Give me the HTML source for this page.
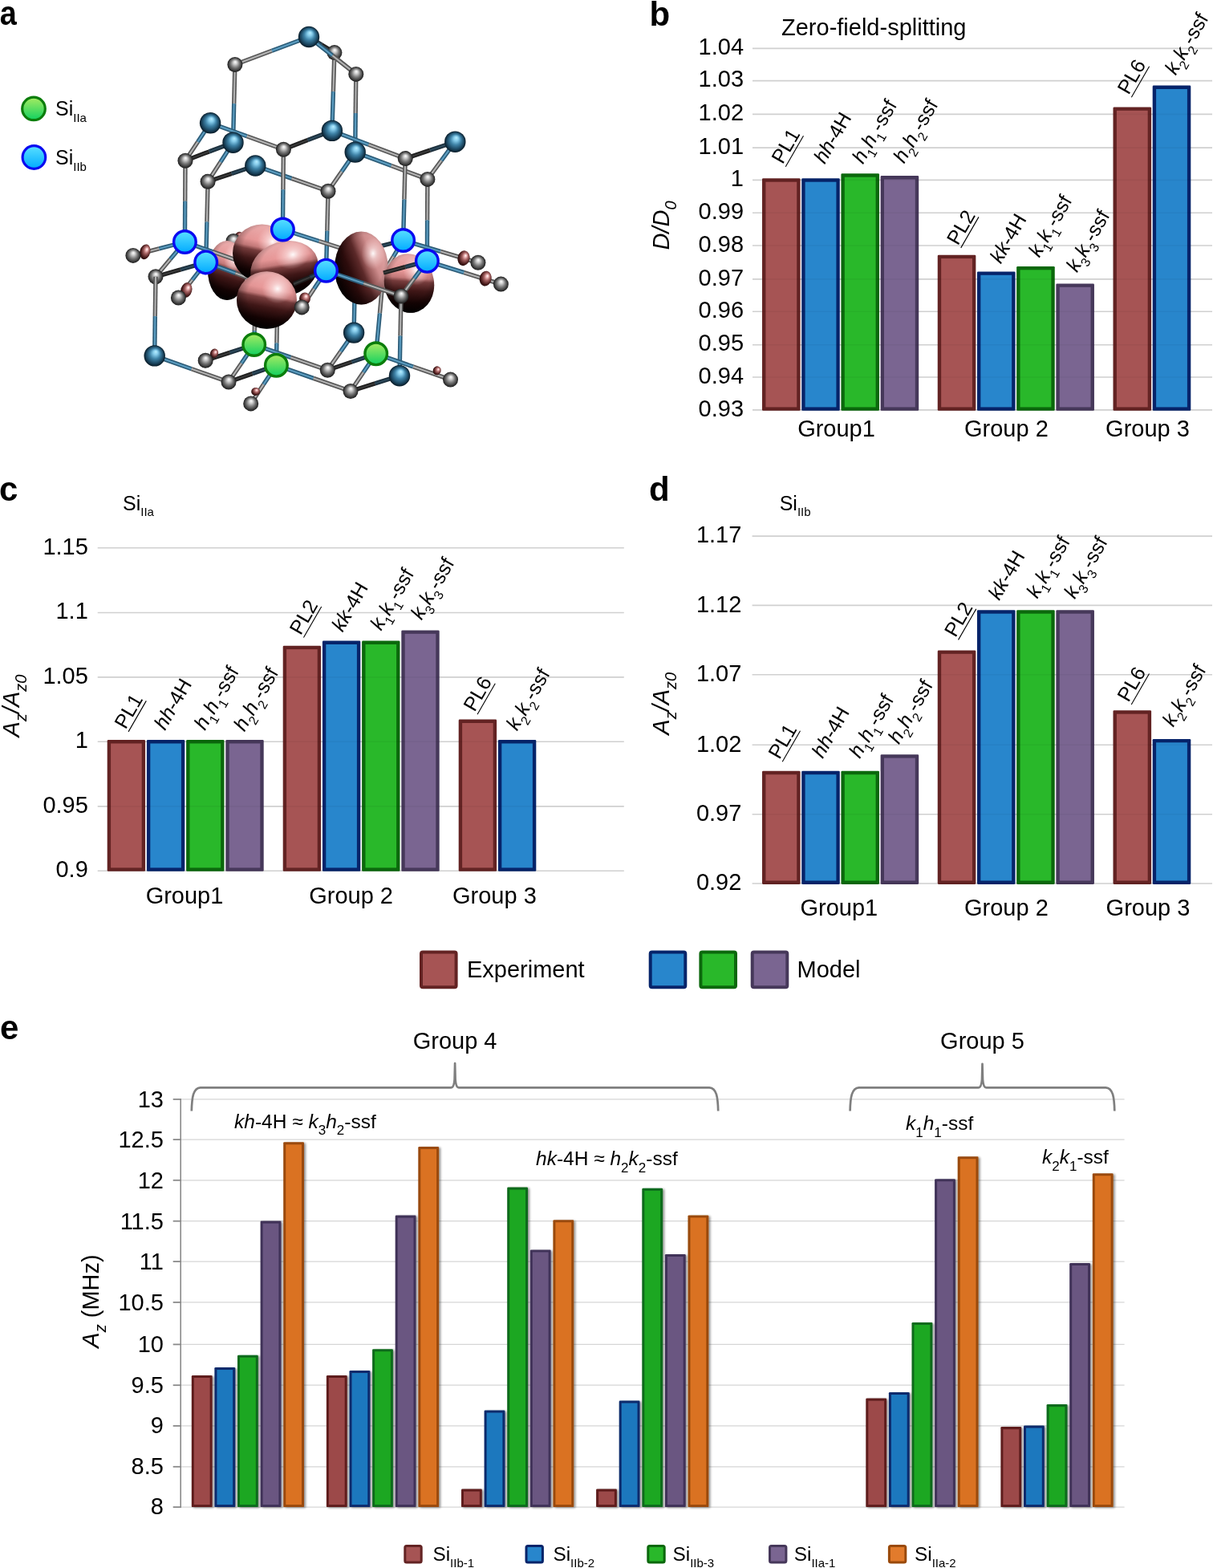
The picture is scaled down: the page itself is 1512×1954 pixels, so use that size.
<!DOCTYPE html>
<html><head><meta charset="utf-8"><title>Figure</title>
<style>
html,body{margin:0;padding:0;background:#fff;}
svg{display:block;}
text{font-family:'Liberation Sans', Arial, Helvetica, sans-serif;fill:#000;}
</style></head><body>
<svg width="1512" height="1954" viewBox="0 0 1512 1954">
<defs>
<radialGradient id="gC" cx="0.5" cy="0.5" r="0.5" fx="0.52" fy="0.32">
 <stop offset="0" stop-color="#ffffff"/><stop offset="0.22" stop-color="#d4d4d4"/><stop offset="0.55" stop-color="#7c7c7c"/><stop offset="0.85" stop-color="#3a3a3a"/><stop offset="1" stop-color="#1a1a1a"/></radialGradient>
<radialGradient id="gS" cx="0.5" cy="0.5" r="0.5" fx="0.56" fy="0.3">
 <stop offset="0" stop-color="#b8eeff"/><stop offset="0.22" stop-color="#86cceb"/><stop offset="0.5" stop-color="#3e82a6"/><stop offset="0.8" stop-color="#1b4660"/><stop offset="1" stop-color="#081a26"/></radialGradient>
<linearGradient id="gB" x1="0" y1="0" x2="0" y2="1">
 <stop offset="0" stop-color="#5ae0ff"/><stop offset="1" stop-color="#00aaff"/></linearGradient>
<linearGradient id="gG" x1="0" y1="0" x2="0" y2="1">
 <stop offset="0" stop-color="#a8ec62"/><stop offset="1" stop-color="#10d060"/></linearGradient>
<radialGradient id="gP" cx="0.68" cy="0.2" r="0.95" fx="0.66" fy="0.24">
 <stop offset="0" stop-color="#ffffff"/><stop offset="0.07" stop-color="#fde4e4"/><stop offset="0.2" stop-color="#eea8a8"/><stop offset="0.36" stop-color="#c88080"/><stop offset="0.5" stop-color="#6e3434"/><stop offset="0.68" stop-color="#2a0808"/><stop offset="0.85" stop-color="#0a0000"/><stop offset="1" stop-color="#000"/></radialGradient>
<radialGradient id="gP2" cx="0.78" cy="0.26" r="0.95" fx="0.76" fy="0.28">
 <stop offset="0" stop-color="#ffffff"/><stop offset="0.05" stop-color="#fde4e4"/><stop offset="0.14" stop-color="#e8a2a2"/><stop offset="0.27" stop-color="#b27070"/><stop offset="0.42" stop-color="#5e2a2a"/><stop offset="0.6" stop-color="#240808"/><stop offset="0.8" stop-color="#060000"/><stop offset="1" stop-color="#000"/></radialGradient>
<linearGradient id="gL" x1="0.6" y1="0" x2="0.4" y2="1">
 <stop offset="0" stop-color="#f8b8b8"/><stop offset="0.3" stop-color="#ee9c9c"/><stop offset="0.41" stop-color="#c87c7c"/><stop offset="0.47" stop-color="#7a3e3e"/><stop offset="0.62" stop-color="#421818"/><stop offset="0.82" stop-color="#160303"/><stop offset="1" stop-color="#040000"/></linearGradient>
<linearGradient id="gL2" x1="0.95" y1="0.25" x2="0.05" y2="0.75">
 <stop offset="0" stop-color="#f0b0b0"/><stop offset="0.25" stop-color="#d89494"/><stop offset="0.4" stop-color="#9a5a5a"/><stop offset="0.5" stop-color="#5e2a2a"/><stop offset="0.7" stop-color="#2e0c0c"/><stop offset="1" stop-color="#080000"/></linearGradient>
<radialGradient id="gLimb" cx="0.55" cy="0.42" r="0.62">
 <stop offset="0" stop-color="#000" stop-opacity="0"/><stop offset="0.6" stop-color="#000" stop-opacity="0.05"/><stop offset="0.85" stop-color="#000" stop-opacity="0.35"/><stop offset="1" stop-color="#000" stop-opacity="0.7"/></radialGradient>
<radialGradient id="gHi" cx="0.68" cy="0.3" r="0.26">
 <stop offset="0" stop-color="#fff" stop-opacity="0.95"/><stop offset="0.35" stop-color="#fff0f0" stop-opacity="0.55"/><stop offset="1" stop-color="#ffdcdc" stop-opacity="0"/></radialGradient>
<radialGradient id="gHi2" cx="0.72" cy="0.3" r="0.22">
 <stop offset="0" stop-color="#fff" stop-opacity="0.95"/><stop offset="0.35" stop-color="#fff0f0" stop-opacity="0.5"/><stop offset="1" stop-color="#ffdcdc" stop-opacity="0"/></radialGradient>
<radialGradient id="gPs" cx="0.55" cy="0.45" r="0.6" fx="0.62" fy="0.3">
 <stop offset="0" stop-color="#fff"/><stop offset="0.15" stop-color="#f2c0c0"/><stop offset="0.4" stop-color="#a86464"/><stop offset="0.75" stop-color="#4a1c1c"/><stop offset="1" stop-color="#1a0404"/></radialGradient>
<filter id="shadow" x="-20%" y="-5%" width="150%" height="110%">
 <feGaussianBlur in="SourceAlpha" stdDeviation="1.4"/><feOffset dx="2.2" dy="0.5" result="b"/>
 <feComponentTransfer><feFuncA type="linear" slope="0.45"/></feComponentTransfer>
 <feMerge><feMergeNode/><feMergeNode in="SourceGraphic"/></feMerge></filter>
</defs>
<rect width="1512" height="1954" fill="#fff"/>
<line x1="938" y1="60.40" x2="1511" y2="60.40" stroke="#d9d9d9" stroke-width="1.6"/>
<text transform="translate(927.0,68.00) scale(1,1.03)" font-size="29" text-anchor="end">1.04</text>
<line x1="938" y1="100.60" x2="1511" y2="100.60" stroke="#d9d9d9" stroke-width="1.6"/>
<text transform="translate(927.0,108.20) scale(1,1.03)" font-size="29" text-anchor="end">1.03</text>
<line x1="938" y1="142.40" x2="1511" y2="142.40" stroke="#d9d9d9" stroke-width="1.6"/>
<text transform="translate(927.0,150.00) scale(1,1.03)" font-size="29" text-anchor="end">1.02</text>
<line x1="938" y1="184.10" x2="1511" y2="184.10" stroke="#d9d9d9" stroke-width="1.6"/>
<text transform="translate(927.0,191.70) scale(1,1.03)" font-size="29" text-anchor="end">1.01</text>
<line x1="938" y1="224.40" x2="1511" y2="224.40" stroke="#d9d9d9" stroke-width="1.6"/>
<text transform="translate(927.0,232.00) scale(1,1.03)" font-size="29" text-anchor="end">1</text>
<line x1="938" y1="265.20" x2="1511" y2="265.20" stroke="#d9d9d9" stroke-width="1.6"/>
<text transform="translate(927.0,272.80) scale(1,1.03)" font-size="29" text-anchor="end">0.99</text>
<line x1="938" y1="306.00" x2="1511" y2="306.00" stroke="#d9d9d9" stroke-width="1.6"/>
<text transform="translate(927.0,313.60) scale(1,1.03)" font-size="29" text-anchor="end">0.98</text>
<line x1="938" y1="347.90" x2="1511" y2="347.90" stroke="#d9d9d9" stroke-width="1.6"/>
<text transform="translate(927.0,355.50) scale(1,1.03)" font-size="29" text-anchor="end">0.97</text>
<line x1="938" y1="388.30" x2="1511" y2="388.30" stroke="#d9d9d9" stroke-width="1.6"/>
<text transform="translate(927.0,395.90) scale(1,1.03)" font-size="29" text-anchor="end">0.96</text>
<line x1="938" y1="429.80" x2="1511" y2="429.80" stroke="#d9d9d9" stroke-width="1.6"/>
<text transform="translate(927.0,437.40) scale(1,1.03)" font-size="29" text-anchor="end">0.95</text>
<line x1="938" y1="470.00" x2="1511" y2="470.00" stroke="#d9d9d9" stroke-width="1.6"/>
<text transform="translate(927.0,477.60) scale(1,1.03)" font-size="29" text-anchor="end">0.94</text>
<line x1="938" y1="510.90" x2="1511" y2="510.90" stroke="#d9d9d9" stroke-width="1.6"/>
<text transform="translate(927.0,518.50) scale(1,1.03)" font-size="29" text-anchor="end">0.93</text>
<rect x="950.00" y="222.30" width="47.60" height="289.50" rx="1.3" fill="#632323"/><rect x="954.40" y="226.70" width="38.80" height="280.70" fill="#a65454"/>
<rect x="999.20" y="222.30" width="47.60" height="289.50" rx="1.3" fill="#06246a"/><rect x="1003.60" y="226.70" width="38.80" height="280.70" fill="#2886cc"/>
<rect x="1048.40" y="216.30" width="47.60" height="295.50" rx="1.3" fill="#0b680c"/><rect x="1052.80" y="220.70" width="38.80" height="286.70" fill="#29b82a"/>
<rect x="1097.60" y="219.10" width="47.60" height="292.70" rx="1.3" fill="#46385a"/><rect x="1102.00" y="223.50" width="38.80" height="283.90" fill="#7a6591"/>
<rect x="1168.75" y="317.70" width="47.60" height="194.10" rx="1.3" fill="#632323"/><rect x="1173.15" y="322.10" width="38.80" height="185.30" fill="#a65454"/>
<rect x="1217.95" y="338.40" width="47.60" height="173.40" rx="1.3" fill="#06246a"/><rect x="1222.35" y="342.80" width="38.80" height="164.60" fill="#2886cc"/>
<rect x="1267.15" y="331.90" width="47.60" height="179.90" rx="1.3" fill="#0b680c"/><rect x="1271.55" y="336.30" width="38.80" height="171.10" fill="#29b82a"/>
<rect x="1316.35" y="353.40" width="47.60" height="158.40" rx="1.3" fill="#46385a"/><rect x="1320.75" y="357.80" width="38.80" height="149.60" fill="#7a6591"/>
<rect x="1387.50" y="133.40" width="47.60" height="378.40" rx="1.3" fill="#632323"/><rect x="1391.90" y="137.80" width="38.80" height="369.60" fill="#a65454"/>
<rect x="1436.70" y="106.60" width="47.60" height="405.20" rx="1.3" fill="#06246a"/><rect x="1441.10" y="111.00" width="38.80" height="396.40" fill="#2886cc"/>
<line x1="938" y1="60.40" x2="1511" y2="60.40" stroke="#000" stroke-opacity="0.04" stroke-width="1.6"/>
<line x1="938" y1="100.60" x2="1511" y2="100.60" stroke="#000" stroke-opacity="0.04" stroke-width="1.6"/>
<line x1="938" y1="142.40" x2="1511" y2="142.40" stroke="#000" stroke-opacity="0.04" stroke-width="1.6"/>
<line x1="938" y1="184.10" x2="1511" y2="184.10" stroke="#000" stroke-opacity="0.04" stroke-width="1.6"/>
<line x1="938" y1="224.40" x2="1511" y2="224.40" stroke="#000" stroke-opacity="0.04" stroke-width="1.6"/>
<line x1="938" y1="265.20" x2="1511" y2="265.20" stroke="#000" stroke-opacity="0.04" stroke-width="1.6"/>
<line x1="938" y1="306.00" x2="1511" y2="306.00" stroke="#000" stroke-opacity="0.04" stroke-width="1.6"/>
<line x1="938" y1="347.90" x2="1511" y2="347.90" stroke="#000" stroke-opacity="0.04" stroke-width="1.6"/>
<line x1="938" y1="388.30" x2="1511" y2="388.30" stroke="#000" stroke-opacity="0.04" stroke-width="1.6"/>
<line x1="938" y1="429.80" x2="1511" y2="429.80" stroke="#000" stroke-opacity="0.04" stroke-width="1.6"/>
<line x1="938" y1="470.00" x2="1511" y2="470.00" stroke="#000" stroke-opacity="0.04" stroke-width="1.6"/>
<line x1="938" y1="510.90" x2="1511" y2="510.90" stroke="#000" stroke-opacity="0.04" stroke-width="1.6"/>
<g transform="translate(975.60,205.60) rotate(-60)"><text x="0" y="0" font-size="25"><tspan>PL1</tspan></text><line x1="0" y1="4.2" x2="44.5" y2="4.2" stroke="#000" stroke-width="1.1"/></g>
<g transform="translate(1027.90,205.30) rotate(-60)"><text x="0" y="0" font-size="25"><tspan font-style="italic">hh</tspan><tspan>-4H</tspan></text></g>
<g transform="translate(1075.70,205.20) rotate(-60)"><text x="0" y="0" font-size="25"><tspan font-style="italic">h</tspan><tspan font-size="16" dy="8">1</tspan><tspan dy="-8">​</tspan><tspan font-style="italic">h</tspan><tspan font-size="16" dy="8">1</tspan><tspan dy="-8">​</tspan><tspan>-ssf</tspan></text></g>
<g transform="translate(1127.10,204.60) rotate(-60)"><text x="0" y="0" font-size="25"><tspan font-style="italic">h</tspan><tspan font-size="16" dy="8">2</tspan><tspan dy="-8">​</tspan><tspan font-style="italic">h</tspan><tspan font-size="16" dy="8">2</tspan><tspan dy="-8">​</tspan><tspan>-ssf</tspan></text></g>
<g transform="translate(1194.10,306.80) rotate(-60)"><text x="0" y="0" font-size="25"><tspan>PL2</tspan></text><line x1="0" y1="4.2" x2="44.5" y2="4.2" stroke="#000" stroke-width="1.1"/></g>
<g transform="translate(1247.60,329.50) rotate(-60)"><text x="0" y="0" font-size="25"><tspan font-style="italic">kk</tspan><tspan>-4H</tspan></text></g>
<g transform="translate(1295.40,321.70) rotate(-60)"><text x="0" y="0" font-size="25"><tspan font-style="italic">k</tspan><tspan font-size="16" dy="8">1</tspan><tspan dy="-8">​</tspan><tspan font-style="italic">k</tspan><tspan font-size="16" dy="8">1</tspan><tspan dy="-8">​</tspan><tspan>-ssf</tspan></text></g>
<g transform="translate(1342.50,340.30) rotate(-60)"><text x="0" y="0" font-size="25"><tspan font-style="italic">k</tspan><tspan font-size="16" dy="8">3</tspan><tspan dy="-8">​</tspan><tspan font-style="italic">k</tspan><tspan font-size="16" dy="8">3</tspan><tspan dy="-8">​</tspan><tspan>-ssf</tspan></text></g>
<g transform="translate(1406.70,119.10) rotate(-60)"><text x="0" y="0" font-size="25"><tspan>PL6</tspan></text><line x1="0" y1="4.2" x2="44.5" y2="4.2" stroke="#000" stroke-width="1.1"/></g>
<g transform="translate(1465.40,94.60) rotate(-60)"><text x="0" y="0" font-size="25"><tspan font-style="italic">k</tspan><tspan font-size="16" dy="8">2</tspan><tspan dy="-8">​</tspan><tspan font-style="italic">k</tspan><tspan font-size="16" dy="8">2</tspan><tspan dy="-8">​</tspan><tspan>-ssf</tspan></text></g>
<text x="809.5" y="31.6" font-size="42" font-weight="bold">b</text>
<text x="974" y="44" font-size="29" text-anchor="start" >Zero-field-splitting</text>
<text transform="translate(834.3,281) rotate(-90)" font-size="29" text-anchor="middle" font-style="italic">D/D<tspan font-size="20" dy="9">0</tspan></text>
<text x="1042.5" y="544.2" font-size="29" text-anchor="middle" >Group1</text>
<text x="1254.4" y="544.2" font-size="29" text-anchor="middle" >Group 2</text>
<text x="1430.5" y="544.2" font-size="29" text-anchor="middle" >Group 3</text>
<line x1="121.7" y1="682.80" x2="777.8" y2="682.80" stroke="#d9d9d9" stroke-width="1.6"/>
<text transform="translate(109.8,690.70) scale(1,1.03)" font-size="29" text-anchor="end">1.15</text>
<line x1="121.7" y1="763.50" x2="777.8" y2="763.50" stroke="#d9d9d9" stroke-width="1.6"/>
<text transform="translate(109.8,771.40) scale(1,1.03)" font-size="29" text-anchor="end">1.1</text>
<line x1="121.7" y1="843.90" x2="777.8" y2="843.90" stroke="#d9d9d9" stroke-width="1.6"/>
<text transform="translate(109.8,851.80) scale(1,1.03)" font-size="29" text-anchor="end">1.05</text>
<line x1="121.7" y1="924.20" x2="777.8" y2="924.20" stroke="#d9d9d9" stroke-width="1.6"/>
<text transform="translate(109.8,932.10) scale(1,1.03)" font-size="29" text-anchor="end">1</text>
<line x1="121.7" y1="1004.90" x2="777.8" y2="1004.90" stroke="#d9d9d9" stroke-width="1.6"/>
<text transform="translate(109.8,1012.80) scale(1,1.03)" font-size="29" text-anchor="end">0.95</text>
<line x1="121.7" y1="1085.30" x2="777.8" y2="1085.30" stroke="#d9d9d9" stroke-width="1.6"/>
<text transform="translate(109.8,1093.20) scale(1,1.03)" font-size="29" text-anchor="end">0.9</text>
<rect x="133.70" y="922.10" width="47.40" height="163.70" rx="1.3" fill="#632323"/><rect x="138.10" y="926.50" width="38.60" height="154.90" fill="#a65454"/>
<rect x="182.90" y="922.10" width="47.40" height="163.70" rx="1.3" fill="#06246a"/><rect x="187.30" y="926.50" width="38.60" height="154.90" fill="#2886cc"/>
<rect x="232.10" y="922.10" width="47.40" height="163.70" rx="1.3" fill="#0b680c"/><rect x="236.50" y="926.50" width="38.60" height="154.90" fill="#29b82a"/>
<rect x="281.30" y="922.10" width="47.40" height="163.70" rx="1.3" fill="#46385a"/><rect x="285.70" y="926.50" width="38.60" height="154.90" fill="#7a6591"/>
<rect x="352.70" y="804.70" width="47.40" height="281.10" rx="1.3" fill="#632323"/><rect x="357.10" y="809.10" width="38.60" height="272.30" fill="#a65454"/>
<rect x="401.90" y="798.60" width="47.40" height="287.20" rx="1.3" fill="#06246a"/><rect x="406.30" y="803.00" width="38.60" height="278.40" fill="#2886cc"/>
<rect x="451.10" y="798.60" width="47.40" height="287.20" rx="1.3" fill="#0b680c"/><rect x="455.50" y="803.00" width="38.60" height="278.40" fill="#29b82a"/>
<rect x="500.30" y="785.40" width="47.40" height="300.40" rx="1.3" fill="#46385a"/><rect x="504.70" y="789.80" width="38.60" height="291.60" fill="#7a6591"/>
<rect x="571.70" y="896.60" width="47.40" height="189.20" rx="1.3" fill="#632323"/><rect x="576.10" y="901.00" width="38.60" height="180.40" fill="#a65454"/>
<rect x="620.90" y="922.10" width="47.40" height="163.70" rx="1.3" fill="#06246a"/><rect x="625.30" y="926.50" width="38.60" height="154.90" fill="#2886cc"/>
<line x1="121.7" y1="682.80" x2="777.8" y2="682.80" stroke="#000" stroke-opacity="0.04" stroke-width="1.6"/>
<line x1="121.7" y1="763.50" x2="777.8" y2="763.50" stroke="#000" stroke-opacity="0.04" stroke-width="1.6"/>
<line x1="121.7" y1="843.90" x2="777.8" y2="843.90" stroke="#000" stroke-opacity="0.04" stroke-width="1.6"/>
<line x1="121.7" y1="924.20" x2="777.8" y2="924.20" stroke="#000" stroke-opacity="0.04" stroke-width="1.6"/>
<line x1="121.7" y1="1004.90" x2="777.8" y2="1004.90" stroke="#000" stroke-opacity="0.04" stroke-width="1.6"/>
<line x1="121.7" y1="1085.30" x2="777.8" y2="1085.30" stroke="#000" stroke-opacity="0.04" stroke-width="1.6"/>
<g transform="translate(156.40,909.80) rotate(-60)"><text x="0" y="0" font-size="25"><tspan>PL1</tspan></text><line x1="0" y1="4.2" x2="44.5" y2="4.2" stroke="#000" stroke-width="1.1"/></g>
<g transform="translate(205.70,911.10) rotate(-60)"><text x="0" y="0" font-size="25"><tspan font-style="italic">hh</tspan><tspan>-4H</tspan></text></g>
<g transform="translate(255.50,911.10) rotate(-60)"><text x="0" y="0" font-size="25"><tspan font-style="italic">h</tspan><tspan font-size="16" dy="8">1</tspan><tspan dy="-8">​</tspan><tspan font-style="italic">h</tspan><tspan font-size="16" dy="8">1</tspan><tspan dy="-8">​</tspan><tspan>-ssf</tspan></text></g>
<g transform="translate(304.70,912.50) rotate(-60)"><text x="0" y="0" font-size="25"><tspan font-style="italic">h</tspan><tspan font-size="16" dy="8">2</tspan><tspan dy="-8">​</tspan><tspan font-style="italic">h</tspan><tspan font-size="16" dy="8">2</tspan><tspan dy="-8">​</tspan><tspan>-ssf</tspan></text></g>
<g transform="translate(374.80,792.40) rotate(-60)"><text x="0" y="0" font-size="25"><tspan>PL2</tspan></text><line x1="0" y1="4.2" x2="44.5" y2="4.2" stroke="#000" stroke-width="1.1"/></g>
<g transform="translate(427.00,788.50) rotate(-60)"><text x="0" y="0" font-size="25"><tspan font-style="italic">kk</tspan><tspan>-4H</tspan></text></g>
<g transform="translate(475.10,786.70) rotate(-60)"><text x="0" y="0" font-size="25"><tspan font-style="italic">k</tspan><tspan font-size="16" dy="8">1</tspan><tspan dy="-8">​</tspan><tspan font-style="italic">k</tspan><tspan font-size="16" dy="8">1</tspan><tspan dy="-8">​</tspan><tspan>-ssf</tspan></text></g>
<g transform="translate(525.40,773.50) rotate(-60)"><text x="0" y="0" font-size="25"><tspan font-style="italic">k</tspan><tspan font-size="16" dy="8">3</tspan><tspan dy="-8">​</tspan><tspan font-style="italic">k</tspan><tspan font-size="16" dy="8">3</tspan><tspan dy="-8">​</tspan><tspan>-ssf</tspan></text></g>
<g transform="translate(591.40,888.10) rotate(-60)"><text x="0" y="0" font-size="25"><tspan>PL6</tspan></text><line x1="0" y1="4.2" x2="44.5" y2="4.2" stroke="#000" stroke-width="1.1"/></g>
<g transform="translate(644.60,911.50) rotate(-60)"><text x="0" y="0" font-size="25"><tspan font-style="italic">k</tspan><tspan font-size="16" dy="8">2</tspan><tspan dy="-8">​</tspan><tspan font-style="italic">k</tspan><tspan font-size="16" dy="8">2</tspan><tspan dy="-8">​</tspan><tspan>-ssf</tspan></text></g>
<text x="-1" y="624.3" font-size="42" font-weight="bold">c</text>
<text x="153" y="635.6" font-size="25">Si<tspan font-size="15" dy="7.5">IIa</tspan></text>
<text transform="translate(23.6,879.5) rotate(-90)" font-size="29" text-anchor="middle" font-style="italic">A<tspan font-size="20" dy="9">z</tspan><tspan dy="-9">/A</tspan><tspan font-size="20" dy="9">z0</tspan></text>
<text x="230" y="1125.5" font-size="29" text-anchor="middle" >Group1</text>
<text x="437.6" y="1125.5" font-size="29" text-anchor="middle" >Group 2</text>
<text x="616.4" y="1125.5" font-size="29" text-anchor="middle" >Group 3</text>
<line x1="937.6" y1="668.10" x2="1511" y2="668.10" stroke="#d9d9d9" stroke-width="1.6"/>
<text transform="translate(924.3,676.40) scale(1,1.03)" font-size="29" text-anchor="end">1.17</text>
<line x1="937.6" y1="754.40" x2="1511" y2="754.40" stroke="#d9d9d9" stroke-width="1.6"/>
<text transform="translate(924.3,762.70) scale(1,1.03)" font-size="29" text-anchor="end">1.12</text>
<line x1="937.6" y1="840.80" x2="1511" y2="840.80" stroke="#d9d9d9" stroke-width="1.6"/>
<text transform="translate(924.3,849.10) scale(1,1.03)" font-size="29" text-anchor="end">1.07</text>
<line x1="937.6" y1="928.30" x2="1511" y2="928.30" stroke="#d9d9d9" stroke-width="1.6"/>
<text transform="translate(924.3,936.60) scale(1,1.03)" font-size="29" text-anchor="end">1.02</text>
<line x1="937.6" y1="1014.70" x2="1511" y2="1014.70" stroke="#d9d9d9" stroke-width="1.6"/>
<text transform="translate(924.3,1023.00) scale(1,1.03)" font-size="29" text-anchor="end">0.97</text>
<line x1="937.6" y1="1101.00" x2="1511" y2="1101.00" stroke="#d9d9d9" stroke-width="1.6"/>
<text transform="translate(924.3,1109.30) scale(1,1.03)" font-size="29" text-anchor="end">0.92</text>
<rect x="950.00" y="960.80" width="47.60" height="141.10" rx="1.3" fill="#632323"/><rect x="954.40" y="965.20" width="38.80" height="132.30" fill="#a65454"/>
<rect x="999.20" y="960.80" width="47.60" height="141.10" rx="1.3" fill="#06246a"/><rect x="1003.60" y="965.20" width="38.80" height="132.30" fill="#2886cc"/>
<rect x="1048.40" y="960.80" width="47.60" height="141.10" rx="1.3" fill="#0b680c"/><rect x="1052.80" y="965.20" width="38.80" height="132.30" fill="#29b82a"/>
<rect x="1097.60" y="940.20" width="47.60" height="161.70" rx="1.3" fill="#46385a"/><rect x="1102.00" y="944.60" width="38.80" height="152.90" fill="#7a6591"/>
<rect x="1168.75" y="810.40" width="47.60" height="291.50" rx="1.3" fill="#632323"/><rect x="1173.15" y="814.80" width="38.80" height="282.70" fill="#a65454"/>
<rect x="1217.95" y="760.30" width="47.60" height="341.60" rx="1.3" fill="#06246a"/><rect x="1222.35" y="764.70" width="38.80" height="332.80" fill="#2886cc"/>
<rect x="1267.15" y="760.30" width="47.60" height="341.60" rx="1.3" fill="#0b680c"/><rect x="1271.55" y="764.70" width="38.80" height="332.80" fill="#29b82a"/>
<rect x="1316.35" y="760.30" width="47.60" height="341.60" rx="1.3" fill="#46385a"/><rect x="1320.75" y="764.70" width="38.80" height="332.80" fill="#7a6591"/>
<rect x="1387.50" y="885.30" width="47.60" height="216.60" rx="1.3" fill="#632323"/><rect x="1391.90" y="889.70" width="38.80" height="207.80" fill="#a65454"/>
<rect x="1436.70" y="920.90" width="47.60" height="181.00" rx="1.3" fill="#06246a"/><rect x="1441.10" y="925.30" width="38.80" height="172.20" fill="#2886cc"/>
<line x1="937.6" y1="668.10" x2="1511" y2="668.10" stroke="#000" stroke-opacity="0.04" stroke-width="1.6"/>
<line x1="937.6" y1="754.40" x2="1511" y2="754.40" stroke="#000" stroke-opacity="0.04" stroke-width="1.6"/>
<line x1="937.6" y1="840.80" x2="1511" y2="840.80" stroke="#000" stroke-opacity="0.04" stroke-width="1.6"/>
<line x1="937.6" y1="928.30" x2="1511" y2="928.30" stroke="#000" stroke-opacity="0.04" stroke-width="1.6"/>
<line x1="937.6" y1="1014.70" x2="1511" y2="1014.70" stroke="#000" stroke-opacity="0.04" stroke-width="1.6"/>
<line x1="937.6" y1="1101.00" x2="1511" y2="1101.00" stroke="#000" stroke-opacity="0.04" stroke-width="1.6"/>
<g transform="translate(971.60,947.20) rotate(-60)"><text x="0" y="0" font-size="25"><tspan>PL1</tspan></text><line x1="0" y1="4.2" x2="44.5" y2="4.2" stroke="#000" stroke-width="1.1"/></g>
<g transform="translate(1025.60,946.00) rotate(-60)"><text x="0" y="0" font-size="25"><tspan font-style="italic">hh</tspan><tspan>-4H</tspan></text></g>
<g transform="translate(1071.80,946.00) rotate(-60)"><text x="0" y="0" font-size="25"><tspan font-style="italic">h</tspan><tspan font-size="16" dy="8">1</tspan><tspan dy="-8">​</tspan><tspan font-style="italic">h</tspan><tspan font-size="16" dy="8">1</tspan><tspan dy="-8">​</tspan><tspan>-ssf</tspan></text></g>
<g transform="translate(1120.50,928.20) rotate(-60)"><text x="0" y="0" font-size="25"><tspan font-style="italic">h</tspan><tspan font-size="16" dy="8">2</tspan><tspan dy="-8">​</tspan><tspan font-style="italic">h</tspan><tspan font-size="16" dy="8">2</tspan><tspan dy="-8">​</tspan><tspan>-ssf</tspan></text></g>
<g transform="translate(1190.90,795.30) rotate(-60)"><text x="0" y="0" font-size="25"><tspan>PL2</tspan></text><line x1="0" y1="4.2" x2="44.5" y2="4.2" stroke="#000" stroke-width="1.1"/></g>
<g transform="translate(1245.60,749.10) rotate(-60)"><text x="0" y="0" font-size="25"><tspan font-style="italic">kk</tspan><tspan>-4H</tspan></text></g>
<g transform="translate(1293.00,746.70) rotate(-60)"><text x="0" y="0" font-size="25"><tspan font-style="italic">k</tspan><tspan font-size="16" dy="8">1</tspan><tspan dy="-8">​</tspan><tspan font-style="italic">k</tspan><tspan font-size="16" dy="8">1</tspan><tspan dy="-8">​</tspan><tspan>-ssf</tspan></text></g>
<g transform="translate(1339.80,747.30) rotate(-60)"><text x="0" y="0" font-size="25"><tspan font-style="italic">k</tspan><tspan font-size="16" dy="8">3</tspan><tspan dy="-8">​</tspan><tspan font-style="italic">k</tspan><tspan font-size="16" dy="8">3</tspan><tspan dy="-8">​</tspan><tspan>-ssf</tspan></text></g>
<g transform="translate(1406.60,875.90) rotate(-60)"><text x="0" y="0" font-size="25"><tspan>PL6</tspan></text><line x1="0" y1="4.2" x2="44.5" y2="4.2" stroke="#000" stroke-width="1.1"/></g>
<g transform="translate(1462.50,906.70) rotate(-60)"><text x="0" y="0" font-size="25"><tspan font-style="italic">k</tspan><tspan font-size="16" dy="8">2</tspan><tspan dy="-8">​</tspan><tspan font-style="italic">k</tspan><tspan font-size="16" dy="8">2</tspan><tspan dy="-8">​</tspan><tspan>-ssf</tspan></text></g>
<text x="809" y="624" font-size="42" font-weight="bold">d</text>
<text x="971.7" y="635.6" font-size="25">Si<tspan font-size="15" dy="7.5">IIb</tspan></text>
<text transform="translate(834,876.7) rotate(-90)" font-size="29" text-anchor="middle" font-style="italic">A<tspan font-size="20" dy="9">z</tspan><tspan dy="-9">/A</tspan><tspan font-size="20" dy="9">z0</tspan></text>
<text x="1045.8" y="1141" font-size="29" text-anchor="middle" >Group1</text>
<text x="1254.4" y="1141" font-size="29" text-anchor="middle" >Group 2</text>
<text x="1431" y="1141" font-size="29" text-anchor="middle" >Group 3</text>
<rect x="525.0" y="1186.6" width="43.6" height="43.6" rx="2" fill="#a65454" stroke="#632323" stroke-width="4"/>
<text x="582" y="1217.5" font-size="29" text-anchor="start" >Experiment</text>
<rect x="810.7" y="1186.6" width="43.6" height="43.6" rx="2" fill="#2886cc" stroke="#06246a" stroke-width="4"/>
<rect x="873.4" y="1186.6" width="43.6" height="43.6" rx="2" fill="#29b82a" stroke="#0b680c" stroke-width="4"/>
<rect x="937.7" y="1186.6" width="43.6" height="43.6" rx="2" fill="#7a6591" stroke="#46385a" stroke-width="4"/>
<text x="993.5" y="1217.5" font-size="29" text-anchor="start" >Model</text>
<line x1="225.2" y1="1369.90" x2="1401.6" y2="1369.90" stroke="#d6d6d6" stroke-width="1.3"/>
<line x1="215.7" y1="1369.90" x2="225.2" y2="1369.90" stroke="#8a8a8a" stroke-width="1.8"/>
<text transform="translate(203.9,1380.30) scale(1,1.03)" font-size="29" text-anchor="end">13</text>
<line x1="225.2" y1="1420.10" x2="1401.6" y2="1420.10" stroke="#d6d6d6" stroke-width="1.3"/>
<line x1="215.7" y1="1420.10" x2="225.2" y2="1420.10" stroke="#8a8a8a" stroke-width="1.8"/>
<text transform="translate(203.9,1430.36) scale(1,1.03)" font-size="29" text-anchor="end">12.5</text>
<line x1="225.2" y1="1470.80" x2="1401.6" y2="1470.80" stroke="#d6d6d6" stroke-width="1.3"/>
<line x1="215.7" y1="1470.80" x2="225.2" y2="1470.80" stroke="#8a8a8a" stroke-width="1.8"/>
<text transform="translate(203.9,1480.92) scale(1,1.03)" font-size="29" text-anchor="end">12</text>
<line x1="225.2" y1="1521.70" x2="1401.6" y2="1521.70" stroke="#d6d6d6" stroke-width="1.3"/>
<line x1="215.7" y1="1521.70" x2="225.2" y2="1521.70" stroke="#8a8a8a" stroke-width="1.8"/>
<text transform="translate(203.9,1531.68) scale(1,1.03)" font-size="29" text-anchor="end">11.5</text>
<line x1="225.2" y1="1572.10" x2="1401.6" y2="1572.10" stroke="#d6d6d6" stroke-width="1.3"/>
<line x1="215.7" y1="1572.10" x2="225.2" y2="1572.10" stroke="#8a8a8a" stroke-width="1.8"/>
<text transform="translate(203.9,1581.94) scale(1,1.03)" font-size="29" text-anchor="end">11</text>
<line x1="225.2" y1="1622.90" x2="1401.6" y2="1622.90" stroke="#d6d6d6" stroke-width="1.3"/>
<line x1="215.7" y1="1622.90" x2="225.2" y2="1622.90" stroke="#8a8a8a" stroke-width="1.8"/>
<text transform="translate(203.9,1632.60) scale(1,1.03)" font-size="29" text-anchor="end">10.5</text>
<line x1="225.2" y1="1675.40" x2="1401.6" y2="1675.40" stroke="#d6d6d6" stroke-width="1.3"/>
<line x1="215.7" y1="1675.40" x2="225.2" y2="1675.40" stroke="#8a8a8a" stroke-width="1.8"/>
<text transform="translate(203.9,1684.96) scale(1,1.03)" font-size="29" text-anchor="end">10</text>
<line x1="225.2" y1="1726.20" x2="1401.6" y2="1726.20" stroke="#d6d6d6" stroke-width="1.3"/>
<line x1="215.7" y1="1726.20" x2="225.2" y2="1726.20" stroke="#8a8a8a" stroke-width="1.8"/>
<text transform="translate(203.9,1735.62) scale(1,1.03)" font-size="29" text-anchor="end">9.5</text>
<line x1="225.2" y1="1776.90" x2="1401.6" y2="1776.90" stroke="#d6d6d6" stroke-width="1.3"/>
<line x1="215.7" y1="1776.90" x2="225.2" y2="1776.90" stroke="#8a8a8a" stroke-width="1.8"/>
<text transform="translate(203.9,1786.18) scale(1,1.03)" font-size="29" text-anchor="end">9</text>
<line x1="225.2" y1="1827.80" x2="1401.6" y2="1827.80" stroke="#d6d6d6" stroke-width="1.3"/>
<line x1="215.7" y1="1827.80" x2="225.2" y2="1827.80" stroke="#8a8a8a" stroke-width="1.8"/>
<text transform="translate(203.9,1836.94) scale(1,1.03)" font-size="29" text-anchor="end">8.5</text>
<line x1="225.2" y1="1878.10" x2="1401.6" y2="1878.10" stroke="#d6d6d6" stroke-width="1.3"/>
<line x1="215.7" y1="1878.10" x2="225.2" y2="1878.10" stroke="#8a8a8a" stroke-width="1.8"/>
<text transform="translate(203.9,1887.10) scale(1,1.03)" font-size="29" text-anchor="end">8</text>
<line x1="225.2" y1="1369.1000000000001" x2="225.2" y2="1878.8999999999999" stroke="#8a8a8a" stroke-width="1.6"/>
<g filter="url(#shadow)">
<rect x="238.80" y="1714.00" width="25.80" height="164.10" rx="1.2" fill="#5e1f1f"/><rect x="241.80" y="1717.00" width="19.80" height="158.10" fill="#9c4848"/>
<rect x="267.40" y="1704.00" width="25.80" height="174.10" rx="1.2" fill="#0a2a6c"/><rect x="270.40" y="1707.00" width="19.80" height="168.10" fill="#1c78be"/>
<rect x="296.00" y="1688.70" width="25.80" height="189.40" rx="1.2" fill="#0e6a1c"/><rect x="299.00" y="1691.70" width="19.80" height="183.40" fill="#1fa720"/>
<rect x="324.60" y="1521.60" width="25.80" height="356.50" rx="1.2" fill="#3f3158"/><rect x="327.60" y="1524.60" width="19.80" height="350.50" fill="#6b5681"/>
<rect x="353.20" y="1423.30" width="25.80" height="454.80" rx="1.2" fill="#9a4a0a"/><rect x="356.20" y="1426.30" width="19.80" height="448.80" fill="#da7222"/>
<rect x="406.90" y="1714.00" width="25.80" height="164.10" rx="1.2" fill="#5e1f1f"/><rect x="409.90" y="1717.00" width="19.80" height="158.10" fill="#9c4848"/>
<rect x="435.50" y="1708.00" width="25.80" height="170.10" rx="1.2" fill="#0a2a6c"/><rect x="438.50" y="1711.00" width="19.80" height="164.10" fill="#1c78be"/>
<rect x="464.10" y="1681.20" width="25.80" height="196.90" rx="1.2" fill="#0e6a1c"/><rect x="467.10" y="1684.20" width="19.80" height="190.90" fill="#1fa720"/>
<rect x="492.70" y="1514.60" width="25.80" height="363.50" rx="1.2" fill="#3f3158"/><rect x="495.70" y="1517.60" width="19.80" height="357.50" fill="#6b5681"/>
<rect x="521.30" y="1429.00" width="25.80" height="449.10" rx="1.2" fill="#9a4a0a"/><rect x="524.30" y="1432.00" width="19.80" height="443.10" fill="#da7222"/>
<rect x="575.00" y="1855.60" width="25.80" height="22.50" rx="1.2" fill="#5e1f1f"/><rect x="578.00" y="1858.60" width="19.80" height="16.50" fill="#9c4848"/>
<rect x="603.60" y="1757.50" width="25.80" height="120.60" rx="1.2" fill="#0a2a6c"/><rect x="606.60" y="1760.50" width="19.80" height="114.60" fill="#1c78be"/>
<rect x="632.20" y="1479.60" width="25.80" height="398.50" rx="1.2" fill="#0e6a1c"/><rect x="635.20" y="1482.60" width="19.80" height="392.50" fill="#1fa720"/>
<rect x="660.80" y="1557.40" width="25.80" height="320.70" rx="1.2" fill="#3f3158"/><rect x="663.80" y="1560.40" width="19.80" height="314.70" fill="#6b5681"/>
<rect x="689.40" y="1520.20" width="25.80" height="357.90" rx="1.2" fill="#9a4a0a"/><rect x="692.40" y="1523.20" width="19.80" height="351.90" fill="#da7222"/>
<rect x="743.10" y="1855.60" width="25.80" height="22.50" rx="1.2" fill="#5e1f1f"/><rect x="746.10" y="1858.60" width="19.80" height="16.50" fill="#9c4848"/>
<rect x="771.70" y="1745.50" width="25.80" height="132.60" rx="1.2" fill="#0a2a6c"/><rect x="774.70" y="1748.50" width="19.80" height="126.60" fill="#1c78be"/>
<rect x="800.30" y="1480.80" width="25.80" height="397.30" rx="1.2" fill="#0e6a1c"/><rect x="803.30" y="1483.80" width="19.80" height="391.30" fill="#1fa720"/>
<rect x="828.90" y="1563.00" width="25.80" height="315.10" rx="1.2" fill="#3f3158"/><rect x="831.90" y="1566.00" width="19.80" height="309.10" fill="#6b5681"/>
<rect x="857.50" y="1514.40" width="25.80" height="363.70" rx="1.2" fill="#9a4a0a"/><rect x="860.50" y="1517.40" width="19.80" height="357.70" fill="#da7222"/>
<rect x="1079.30" y="1742.60" width="25.80" height="135.50" rx="1.2" fill="#5e1f1f"/><rect x="1082.30" y="1745.60" width="19.80" height="129.50" fill="#9c4848"/>
<rect x="1107.90" y="1735.00" width="25.80" height="143.10" rx="1.2" fill="#0a2a6c"/><rect x="1110.90" y="1738.00" width="19.80" height="137.10" fill="#1c78be"/>
<rect x="1136.50" y="1648.00" width="25.80" height="230.10" rx="1.2" fill="#0e6a1c"/><rect x="1139.50" y="1651.00" width="19.80" height="224.10" fill="#1fa720"/>
<rect x="1165.10" y="1469.20" width="25.80" height="408.90" rx="1.2" fill="#3f3158"/><rect x="1168.10" y="1472.20" width="19.80" height="402.90" fill="#6b5681"/>
<rect x="1193.70" y="1441.20" width="25.80" height="436.90" rx="1.2" fill="#9a4a0a"/><rect x="1196.70" y="1444.20" width="19.80" height="430.90" fill="#da7222"/>
<rect x="1247.40" y="1778.10" width="25.80" height="100.00" rx="1.2" fill="#5e1f1f"/><rect x="1250.40" y="1781.10" width="19.80" height="94.00" fill="#9c4848"/>
<rect x="1276.00" y="1776.50" width="25.80" height="101.60" rx="1.2" fill="#0a2a6c"/><rect x="1279.00" y="1779.50" width="19.80" height="95.60" fill="#1c78be"/>
<rect x="1304.60" y="1750.10" width="25.80" height="128.00" rx="1.2" fill="#0e6a1c"/><rect x="1307.60" y="1753.10" width="19.80" height="122.00" fill="#1fa720"/>
<rect x="1333.20" y="1574.00" width="25.80" height="304.10" rx="1.2" fill="#3f3158"/><rect x="1336.20" y="1577.00" width="19.80" height="298.10" fill="#6b5681"/>
<rect x="1361.80" y="1462.20" width="25.80" height="415.90" rx="1.2" fill="#9a4a0a"/><rect x="1364.80" y="1465.20" width="19.80" height="409.90" fill="#da7222"/>
</g>
<path d="M 238.8,1384.5 C 239.20000000000002,1367.3 240.8,1355.8 249.8,1355.3 L 562.3000000000001,1355.3 C 564.9,1355.3 566.2,1350.3 566.6,1345.3 L 567.1,1325.0 L 567.6,1345.3 C 568.0,1350.3 569.3000000000001,1355.3 571.9,1355.3 L 884.2,1355.3 C 893.2,1355.8 894.8000000000001,1367.3 895.2,1384.5" fill="none" stroke="#7f7f7f" stroke-width="2.7" stroke-linejoin="round"/>
<path d="M 1059.6,1384.5 C 1060.0,1367.3 1061.6,1355.8 1070.6,1355.3 L 1219.7,1355.3 C 1222.3,1355.3 1223.6,1350.3 1224.0,1345.3 L 1224.5,1325.8 L 1225.0,1345.3 C 1225.4,1350.3 1226.7,1355.3 1229.3,1355.3 L 1378.3,1355.3 C 1387.3,1355.8 1388.8999999999999,1367.3 1389.3,1384.5" fill="none" stroke="#7f7f7f" stroke-width="2.7" stroke-linejoin="round"/>
<text x="567.1" y="1306.7" font-size="29" text-anchor="middle" >Group 4</text>
<text x="1224.5" y="1306.7" font-size="29" text-anchor="middle" >Group 5</text>
<text x="0" y="1295" font-size="42" font-weight="bold">e</text>
<text transform="translate(123.4,1621.5) rotate(-90)" font-size="29" text-anchor="middle"><tspan font-style="italic">A</tspan><tspan font-style="italic" font-size="20" dy="9">z</tspan><tspan dy="-9"> (MHz)</tspan></text>
<text x="292" y="1405.7" font-size="24.5"><tspan font-style="italic">kh</tspan>-4H ≈ <tspan font-style="italic">k</tspan><tspan font-size="17" dy="8.6">3</tspan><tspan dy="-8.6">​</tspan><tspan font-style="italic">h</tspan><tspan font-size="17" dy="8.6">2</tspan><tspan dy="-8.6">​</tspan>-ssf</text>
<text x="668" y="1452" font-size="24.5"><tspan font-style="italic">hk</tspan>-4H ≈ <tspan font-style="italic">h</tspan><tspan font-size="17" dy="8.6">2</tspan><tspan dy="-8.6">​</tspan><tspan font-style="italic">k</tspan><tspan font-size="17" dy="8.6">2</tspan><tspan dy="-8.6">​</tspan>-ssf</text>
<text x="1129" y="1408" font-size="24.5"><tspan font-style="italic">k</tspan><tspan font-size="17" dy="8.6">1</tspan><tspan dy="-8.6">​</tspan><tspan font-style="italic">h</tspan><tspan font-size="17" dy="8.6">1</tspan><tspan dy="-8.6">​</tspan>-ssf</text>
<text x="1299" y="1450" font-size="24.5"><tspan font-style="italic">k</tspan><tspan font-size="17" dy="8.6">2</tspan><tspan dy="-8.6">​</tspan><tspan font-style="italic">k</tspan><tspan font-size="17" dy="8.6">1</tspan><tspan dy="-8.6">​</tspan>-ssf</text>
<rect x="504.8" y="1926.6" width="20.4" height="20.4" rx="2" fill="#a65454" stroke="#632323" stroke-width="3"/>
<text x="539.4" y="1944.6" font-size="24.4">Si<tspan font-size="15" dy="8">IIb-1</tspan></text>
<rect x="656.0" y="1926.6" width="20.4" height="20.4" rx="2" fill="#2886cc" stroke="#06246a" stroke-width="3"/>
<text x="689.4" y="1944.6" font-size="24.4">Si<tspan font-size="15" dy="8">IIb-2</tspan></text>
<rect x="807.8" y="1926.6" width="20.4" height="20.4" rx="2" fill="#29b82a" stroke="#0b680c" stroke-width="3"/>
<text x="838.5" y="1944.6" font-size="24.4">Si<tspan font-size="15" dy="8">IIb-3</tspan></text>
<rect x="959.5" y="1926.6" width="20.4" height="20.4" rx="2" fill="#7a6591" stroke="#46385a" stroke-width="3"/>
<text x="989.7" y="1944.6" font-size="24.4">Si<tspan font-size="15" dy="8">IIa-1</tspan></text>
<rect x="1108.4" y="1926.6" width="20.4" height="20.4" rx="2" fill="#e27b2c" stroke="#9a4a0a" stroke-width="3"/>
<text x="1140.0" y="1944.6" font-size="24.4">Si<tspan font-size="15" dy="8">IIa-2</tspan></text>
<g><line x1="292.9" y1="80.5" x2="338.9" y2="63.2" stroke="#585858" stroke-width="5.4"/><line x1="292.9" y1="80.5" x2="338.9" y2="63.2" stroke="#b4b4b4" stroke-width="2.0"/><line x1="338.9" y1="63.2" x2="385.0" y2="46.0" stroke="#2c5c78" stroke-width="5.4"/><line x1="338.9" y1="63.2" x2="385.0" y2="46.0" stroke="#5c9ec2" stroke-width="2.0"/>
<line x1="385.0" y1="46.0" x2="414.4" y2="69.2" stroke="#2c5c78" stroke-width="5.4"/><line x1="385.0" y1="46.0" x2="414.4" y2="69.2" stroke="#5c9ec2" stroke-width="2.0"/><line x1="414.4" y1="69.2" x2="443.8" y2="92.4" stroke="#585858" stroke-width="5.4"/><line x1="414.4" y1="69.2" x2="443.8" y2="92.4" stroke="#b4b4b4" stroke-width="2.0"/>
<line x1="385.0" y1="46.0" x2="400.9" y2="55.8" stroke="#1c2f3c" stroke-width="5.4"/><line x1="385.0" y1="46.0" x2="400.9" y2="55.8" stroke="#2d4a5c" stroke-width="2.0"/><line x1="400.9" y1="55.8" x2="416.9" y2="65.6" stroke="#1e1e1e" stroke-width="5.4"/><line x1="400.9" y1="55.8" x2="416.9" y2="65.6" stroke="#3a3a3a" stroke-width="2.0"/>
<line x1="292.9" y1="80.5" x2="291.7" y2="129.1" stroke="#585858" stroke-width="5.4"/><line x1="292.9" y1="80.5" x2="291.7" y2="129.1" stroke="#b4b4b4" stroke-width="2.0"/><line x1="291.7" y1="129.1" x2="290.5" y2="177.7" stroke="#2c5c78" stroke-width="5.4"/><line x1="291.7" y1="129.1" x2="290.5" y2="177.7" stroke="#5c9ec2" stroke-width="2.0"/>
<line x1="416.9" y1="65.6" x2="415.4" y2="114.2" stroke="#585858" stroke-width="5.4"/><line x1="416.9" y1="65.6" x2="415.4" y2="114.2" stroke="#b4b4b4" stroke-width="2.0"/><line x1="415.4" y1="114.2" x2="413.9" y2="162.9" stroke="#2c5c78" stroke-width="5.4"/><line x1="415.4" y1="114.2" x2="413.9" y2="162.9" stroke="#5c9ec2" stroke-width="2.0"/>
<line x1="443.8" y1="92.4" x2="443.2" y2="141.0" stroke="#585858" stroke-width="5.4"/><line x1="443.8" y1="92.4" x2="443.2" y2="141.0" stroke="#b4b4b4" stroke-width="2.0"/><line x1="443.2" y1="141.0" x2="442.7" y2="189.6" stroke="#2c5c78" stroke-width="5.4"/><line x1="443.2" y1="141.0" x2="442.7" y2="189.6" stroke="#5c9ec2" stroke-width="2.0"/>
<line x1="262.1" y1="153.3" x2="307.8" y2="169.8" stroke="#2c5c78" stroke-width="5.4"/><line x1="262.1" y1="153.3" x2="307.8" y2="169.8" stroke="#5c9ec2" stroke-width="2.0"/><line x1="307.8" y1="169.8" x2="353.4" y2="186.3" stroke="#585858" stroke-width="5.4"/><line x1="307.8" y1="169.8" x2="353.4" y2="186.3" stroke="#b4b4b4" stroke-width="2.0"/>
<line x1="353.4" y1="186.3" x2="383.6" y2="174.6" stroke="#1e1e1e" stroke-width="5.4"/><line x1="353.4" y1="186.3" x2="383.6" y2="174.6" stroke="#3a3a3a" stroke-width="2.0"/><line x1="383.6" y1="174.6" x2="413.9" y2="162.9" stroke="#1c2f3c" stroke-width="5.4"/><line x1="383.6" y1="174.6" x2="413.9" y2="162.9" stroke="#2d4a5c" stroke-width="2.0"/>
<line x1="413.9" y1="162.9" x2="459.5" y2="180.2" stroke="#2c5c78" stroke-width="5.4"/><line x1="413.9" y1="162.9" x2="459.5" y2="180.2" stroke="#5c9ec2" stroke-width="2.0"/><line x1="459.5" y1="180.2" x2="505.2" y2="197.6" stroke="#585858" stroke-width="5.4"/><line x1="459.5" y1="180.2" x2="505.2" y2="197.6" stroke="#b4b4b4" stroke-width="2.0"/>
<line x1="442.7" y1="189.6" x2="487.8" y2="206.5" stroke="#2c5c78" stroke-width="5.4"/><line x1="442.7" y1="189.6" x2="487.8" y2="206.5" stroke="#5c9ec2" stroke-width="2.0"/><line x1="487.8" y1="206.5" x2="532.9" y2="223.4" stroke="#585858" stroke-width="5.4"/><line x1="487.8" y1="206.5" x2="532.9" y2="223.4" stroke="#b4b4b4" stroke-width="2.0"/>
<line x1="505.2" y1="197.6" x2="536.2" y2="187.1" stroke="#1e1e1e" stroke-width="5.4"/><line x1="505.2" y1="197.6" x2="536.2" y2="187.1" stroke="#3a3a3a" stroke-width="2.0"/><line x1="536.2" y1="187.1" x2="567.3" y2="176.7" stroke="#1c2f3c" stroke-width="5.4"/><line x1="536.2" y1="187.1" x2="567.3" y2="176.7" stroke="#2d4a5c" stroke-width="2.0"/>
<line x1="567.3" y1="176.7" x2="550.1" y2="200.1" stroke="#2c5c78" stroke-width="5.4"/><line x1="567.3" y1="176.7" x2="550.1" y2="200.1" stroke="#5c9ec2" stroke-width="2.0"/><line x1="550.1" y1="200.1" x2="532.9" y2="223.4" stroke="#585858" stroke-width="5.4"/><line x1="550.1" y1="200.1" x2="532.9" y2="223.4" stroke="#b4b4b4" stroke-width="2.0"/>
<line x1="442.7" y1="189.6" x2="425.9" y2="213.9" stroke="#2c5c78" stroke-width="5.4"/><line x1="442.7" y1="189.6" x2="425.9" y2="213.9" stroke="#5c9ec2" stroke-width="2.0"/><line x1="425.9" y1="213.9" x2="409.0" y2="238.3" stroke="#585858" stroke-width="5.4"/><line x1="425.9" y1="213.9" x2="409.0" y2="238.3" stroke="#b4b4b4" stroke-width="2.0"/>
<line x1="231.0" y1="200.2" x2="246.6" y2="176.8" stroke="#585858" stroke-width="5.4"/><line x1="231.0" y1="200.2" x2="246.6" y2="176.8" stroke="#b4b4b4" stroke-width="2.0"/><line x1="246.6" y1="176.8" x2="262.1" y2="153.3" stroke="#2c5c78" stroke-width="5.4"/><line x1="246.6" y1="176.8" x2="262.1" y2="153.3" stroke="#5c9ec2" stroke-width="2.0"/>
<line x1="231.0" y1="200.2" x2="260.8" y2="188.9" stroke="#1e1e1e" stroke-width="5.4"/><line x1="231.0" y1="200.2" x2="260.8" y2="188.9" stroke="#3a3a3a" stroke-width="2.0"/><line x1="260.8" y1="188.9" x2="290.5" y2="177.7" stroke="#1c2f3c" stroke-width="5.4"/><line x1="260.8" y1="188.9" x2="290.5" y2="177.7" stroke="#2d4a5c" stroke-width="2.0"/>
<line x1="290.5" y1="177.7" x2="274.8" y2="202.0" stroke="#2c5c78" stroke-width="5.4"/><line x1="290.5" y1="177.7" x2="274.8" y2="202.0" stroke="#5c9ec2" stroke-width="2.0"/><line x1="274.8" y1="202.0" x2="259.1" y2="226.3" stroke="#585858" stroke-width="5.4"/><line x1="274.8" y1="202.0" x2="259.1" y2="226.3" stroke="#b4b4b4" stroke-width="2.0"/>
<line x1="259.1" y1="226.3" x2="288.7" y2="216.4" stroke="#1e1e1e" stroke-width="5.4"/><line x1="259.1" y1="226.3" x2="288.7" y2="216.4" stroke="#3a3a3a" stroke-width="2.0"/><line x1="288.7" y1="216.4" x2="318.3" y2="206.5" stroke="#1c2f3c" stroke-width="5.4"/><line x1="288.7" y1="216.4" x2="318.3" y2="206.5" stroke="#2d4a5c" stroke-width="2.0"/>
<line x1="318.3" y1="206.5" x2="363.6" y2="222.4" stroke="#2c5c78" stroke-width="5.4"/><line x1="318.3" y1="206.5" x2="363.6" y2="222.4" stroke="#5c9ec2" stroke-width="2.0"/><line x1="363.6" y1="222.4" x2="409.0" y2="238.3" stroke="#585858" stroke-width="5.4"/><line x1="363.6" y1="222.4" x2="409.0" y2="238.3" stroke="#b4b4b4" stroke-width="2.0"/>
<line x1="353.4" y1="186.3" x2="352.9" y2="236.2" stroke="#585858" stroke-width="5.4"/><line x1="353.4" y1="186.3" x2="352.9" y2="236.2" stroke="#b4b4b4" stroke-width="2.0"/><line x1="352.9" y1="236.2" x2="352.4" y2="286.0" stroke="#2c5c78" stroke-width="5.4"/><line x1="352.9" y1="236.2" x2="352.4" y2="286.0" stroke="#5c9ec2" stroke-width="2.0"/>
<line x1="231.0" y1="200.2" x2="230.7" y2="250.8" stroke="#585858" stroke-width="5.4"/><line x1="231.0" y1="200.2" x2="230.7" y2="250.8" stroke="#b4b4b4" stroke-width="2.0"/><line x1="230.7" y1="250.8" x2="230.4" y2="301.5" stroke="#2c5c78" stroke-width="5.4"/><line x1="230.7" y1="250.8" x2="230.4" y2="301.5" stroke="#5c9ec2" stroke-width="2.0"/>
<line x1="259.1" y1="226.3" x2="257.9" y2="276.6" stroke="#585858" stroke-width="5.4"/><line x1="259.1" y1="226.3" x2="257.9" y2="276.6" stroke="#b4b4b4" stroke-width="2.0"/><line x1="257.9" y1="276.6" x2="256.7" y2="326.9" stroke="#2c5c78" stroke-width="5.4"/><line x1="257.9" y1="276.6" x2="256.7" y2="326.9" stroke="#5c9ec2" stroke-width="2.0"/>
<line x1="409.0" y1="238.3" x2="407.8" y2="287.8" stroke="#585858" stroke-width="5.4"/><line x1="409.0" y1="238.3" x2="407.8" y2="287.8" stroke="#b4b4b4" stroke-width="2.0"/><line x1="407.8" y1="287.8" x2="406.5" y2="337.2" stroke="#2c5c78" stroke-width="5.4"/><line x1="407.8" y1="287.8" x2="406.5" y2="337.2" stroke="#5c9ec2" stroke-width="2.0"/>
<line x1="505.2" y1="197.6" x2="503.9" y2="248.6" stroke="#585858" stroke-width="5.4"/><line x1="505.2" y1="197.6" x2="503.9" y2="248.6" stroke="#b4b4b4" stroke-width="2.0"/><line x1="503.9" y1="248.6" x2="502.6" y2="299.5" stroke="#2c5c78" stroke-width="5.4"/><line x1="503.9" y1="248.6" x2="502.6" y2="299.5" stroke="#5c9ec2" stroke-width="2.0"/>
<line x1="532.9" y1="223.4" x2="532.6" y2="274.4" stroke="#585858" stroke-width="5.4"/><line x1="532.9" y1="223.4" x2="532.6" y2="274.4" stroke="#b4b4b4" stroke-width="2.0"/><line x1="532.6" y1="274.4" x2="532.4" y2="325.3" stroke="#2c5c78" stroke-width="5.4"/><line x1="532.6" y1="274.4" x2="532.4" y2="325.3" stroke="#5c9ec2" stroke-width="2.0"/>
<line x1="230.4" y1="301.5" x2="198.2" y2="309.9" stroke="#2c5c78" stroke-width="5.4"/><line x1="230.4" y1="301.5" x2="198.2" y2="309.9" stroke="#5c9ec2" stroke-width="2.0"/><line x1="198.2" y1="309.9" x2="165.9" y2="318.4" stroke="#585858" stroke-width="5.4"/><line x1="198.2" y1="309.9" x2="165.9" y2="318.4" stroke="#b4b4b4" stroke-width="2.0"/>
<line x1="230.4" y1="301.5" x2="212.2" y2="323.1" stroke="#2c5c78" stroke-width="5.4"/><line x1="230.4" y1="301.5" x2="212.2" y2="323.1" stroke="#5c9ec2" stroke-width="2.0"/><line x1="212.2" y1="323.1" x2="194.0" y2="344.8" stroke="#585858" stroke-width="5.4"/><line x1="212.2" y1="323.1" x2="194.0" y2="344.8" stroke="#b4b4b4" stroke-width="2.0"/>
<line x1="194.0" y1="344.8" x2="225.3" y2="335.9" stroke="#1e1e1e" stroke-width="5.4"/><line x1="194.0" y1="344.8" x2="225.3" y2="335.9" stroke="#3a3a3a" stroke-width="2.0"/><line x1="225.3" y1="335.9" x2="256.7" y2="326.9" stroke="#1c2f3c" stroke-width="5.4"/><line x1="225.3" y1="335.9" x2="256.7" y2="326.9" stroke="#2d4a5c" stroke-width="2.0"/>
<line x1="256.7" y1="326.9" x2="239.6" y2="348.9" stroke="#2c5c78" stroke-width="5.4"/><line x1="256.7" y1="326.9" x2="239.6" y2="348.9" stroke="#5c9ec2" stroke-width="2.0"/><line x1="239.6" y1="348.9" x2="222.4" y2="371.0" stroke="#585858" stroke-width="5.4"/><line x1="239.6" y1="348.9" x2="222.4" y2="371.0" stroke="#b4b4b4" stroke-width="2.0"/>
<line x1="352.4" y1="286.0" x2="397.7" y2="300.5" stroke="#2c5c78" stroke-width="5.4"/><line x1="352.4" y1="286.0" x2="397.7" y2="300.5" stroke="#5c9ec2" stroke-width="2.0"/><line x1="397.7" y1="300.5" x2="443.0" y2="315.0" stroke="#585858" stroke-width="5.4"/><line x1="397.7" y1="300.5" x2="443.0" y2="315.0" stroke="#b4b4b4" stroke-width="2.0"/>
<line x1="502.6" y1="299.5" x2="472.8" y2="307.2" stroke="#1c2f3c" stroke-width="5.4"/><line x1="502.6" y1="299.5" x2="472.8" y2="307.2" stroke="#2d4a5c" stroke-width="2.0"/><line x1="472.8" y1="307.2" x2="443.0" y2="315.0" stroke="#1e1e1e" stroke-width="5.4"/><line x1="472.8" y1="307.2" x2="443.0" y2="315.0" stroke="#3a3a3a" stroke-width="2.0"/>
<line x1="443.0" y1="315.0" x2="442.1" y2="364.8" stroke="#585858" stroke-width="5.4"/><line x1="443.0" y1="315.0" x2="442.1" y2="364.8" stroke="#b4b4b4" stroke-width="2.0"/><line x1="442.1" y1="364.8" x2="441.1" y2="414.6" stroke="#2c5c78" stroke-width="5.4"/><line x1="442.1" y1="364.8" x2="441.1" y2="414.6" stroke="#5c9ec2" stroke-width="2.0"/>
<line x1="478.0" y1="340.0" x2="473.4" y2="390.4" stroke="#585858" stroke-width="5.4"/><line x1="478.0" y1="340.0" x2="473.4" y2="390.4" stroke="#b4b4b4" stroke-width="2.0"/><line x1="473.4" y1="390.4" x2="468.7" y2="440.8" stroke="#2c5c78" stroke-width="5.4"/><line x1="473.4" y1="390.4" x2="468.7" y2="440.8" stroke="#5c9ec2" stroke-width="2.0"/>
<line x1="317.7" y1="395.0" x2="317.2" y2="412.2" stroke="#585858" stroke-width="5.4"/><line x1="317.7" y1="395.0" x2="317.2" y2="412.2" stroke="#b4b4b4" stroke-width="2.0"/><line x1="317.2" y1="412.2" x2="316.7" y2="429.5" stroke="#2c5c78" stroke-width="5.4"/><line x1="317.2" y1="412.2" x2="316.7" y2="429.5" stroke="#5c9ec2" stroke-width="2.0"/>
<line x1="345.4" y1="400.0" x2="344.9" y2="427.6" stroke="#585858" stroke-width="5.4"/><line x1="345.4" y1="400.0" x2="344.9" y2="427.6" stroke="#b4b4b4" stroke-width="2.0"/><line x1="344.9" y1="427.6" x2="344.4" y2="455.3" stroke="#2c5c78" stroke-width="5.4"/><line x1="344.9" y1="427.6" x2="344.4" y2="455.3" stroke="#5c9ec2" stroke-width="2.0"/>
<line x1="502.6" y1="299.5" x2="490.3" y2="319.8" stroke="#2c5c78" stroke-width="5.4"/><line x1="502.6" y1="299.5" x2="490.3" y2="319.8" stroke="#5c9ec2" stroke-width="2.0"/><line x1="490.3" y1="319.8" x2="478.0" y2="340.0" stroke="#585858" stroke-width="5.4"/><line x1="490.3" y1="319.8" x2="478.0" y2="340.0" stroke="#b4b4b4" stroke-width="2.0"/>
<circle cx="416.9" cy="65.6" r="9.5" fill="url(#gC)"/>
<line x1="385.0" y1="46.0" x2="414.4" y2="69.2" stroke="#2c5c78" stroke-width="5.4"/><line x1="385.0" y1="46.0" x2="414.4" y2="69.2" stroke="#5c9ec2" stroke-width="2.0"/><line x1="414.4" y1="69.2" x2="443.8" y2="92.4" stroke="#585858" stroke-width="5.4"/><line x1="414.4" y1="69.2" x2="443.8" y2="92.4" stroke="#b4b4b4" stroke-width="2.0"/>
<circle cx="385.0" cy="46.0" r="13.2" fill="url(#gS)"/>
<circle cx="292.9" cy="80.5" r="9.5" fill="url(#gC)"/>
<circle cx="443.8" cy="92.4" r="9.5" fill="url(#gC)"/>
<circle cx="262.1" cy="153.3" r="13.2" fill="url(#gS)"/>
<circle cx="413.9" cy="162.9" r="13.2" fill="url(#gS)"/>
<circle cx="290.5" cy="177.7" r="13.2" fill="url(#gS)"/>
<circle cx="353.4" cy="186.3" r="9.5" fill="url(#gC)"/>
<circle cx="442.7" cy="189.6" r="13.2" fill="url(#gS)"/>
<circle cx="318.3" cy="206.5" r="13.2" fill="url(#gS)"/>
<circle cx="231.0" cy="200.2" r="9.5" fill="url(#gC)"/>
<circle cx="259.1" cy="226.3" r="9.5" fill="url(#gC)"/>
<circle cx="409.0" cy="238.3" r="9.5" fill="url(#gC)"/>
<circle cx="505.2" cy="197.6" r="9.5" fill="url(#gC)"/>
<circle cx="567.3" cy="176.7" r="13.2" fill="url(#gS)"/>
<circle cx="532.9" cy="223.4" r="9.5" fill="url(#gC)"/>
<ellipse cx="297.8" cy="294.6" rx="5" ry="6" transform="rotate(20 297.8 294.6)" fill="url(#gPs)"/>
<circle cx="291.0" cy="300.5" r="9.5" fill="url(#gC)"/>
<ellipse cx="180.8" cy="313.8" rx="6.5" ry="9.5" transform="rotate(15 180.8 313.8)" fill="url(#gPs)"/>
<circle cx="165.9" cy="318.4" r="9.5" fill="url(#gC)"/>
<ellipse cx="232.3" cy="361.4" rx="7" ry="9.5" transform="rotate(15 232.3 361.4)" fill="url(#gPs)"/>
<circle cx="222.4" cy="371.0" r="9.5" fill="url(#gC)"/>
<ellipse cx="283" cy="337" rx="24" ry="37" transform="rotate(0 283 337)" fill="url(#gL)"/><ellipse cx="283" cy="337" rx="24" ry="37" transform="rotate(0 283 337)" fill="url(#gLimb)"/><ellipse cx="283" cy="337" rx="24" ry="37" transform="rotate(0 283 337)" fill="url(#gHi)"/>
<line x1="230.4" y1="301.5" x2="265.2" y2="313.8" stroke="#2c5c78" stroke-width="5.4"/><line x1="230.4" y1="301.5" x2="265.2" y2="313.8" stroke="#5c9ec2" stroke-width="2.0"/><line x1="265.2" y1="313.8" x2="300.0" y2="326.0" stroke="#585858" stroke-width="5.4"/><line x1="265.2" y1="313.8" x2="300.0" y2="326.0" stroke="#b4b4b4" stroke-width="2.0"/>
<line x1="256.7" y1="326.9" x2="293.4" y2="340.4" stroke="#2c5c78" stroke-width="5.4"/><line x1="256.7" y1="326.9" x2="293.4" y2="340.4" stroke="#5c9ec2" stroke-width="2.0"/><line x1="293.4" y1="340.4" x2="330.0" y2="354.0" stroke="#585858" stroke-width="5.4"/><line x1="293.4" y1="340.4" x2="330.0" y2="354.0" stroke="#b4b4b4" stroke-width="2.0"/>
<ellipse cx="326.6" cy="315.4" rx="36.5" ry="36" transform="rotate(0 326.6 315.4)" fill="url(#gL)"/><ellipse cx="326.6" cy="315.4" rx="36.5" ry="36" transform="rotate(0 326.6 315.4)" fill="url(#gLimb)"/><ellipse cx="326.6" cy="315.4" rx="36.5" ry="36" transform="rotate(0 326.6 315.4)" fill="url(#gHi)"/>
<ellipse cx="354.5" cy="335" rx="43" ry="34" transform="rotate(-18 354.5 335)" fill="url(#gL)"/><ellipse cx="354.5" cy="335" rx="43" ry="34" transform="rotate(-18 354.5 335)" fill="url(#gLimb)"/><ellipse cx="354.5" cy="335" rx="43" ry="34" transform="rotate(-18 354.5 335)" fill="url(#gHi)"/>
<ellipse cx="332.5" cy="374" rx="37.5" ry="35.7" transform="rotate(0 332.5 374)" fill="url(#gL)"/><ellipse cx="332.5" cy="374" rx="37.5" ry="35.7" transform="rotate(0 332.5 374)" fill="url(#gLimb)"/><ellipse cx="332.5" cy="374" rx="37.5" ry="35.7" transform="rotate(0 332.5 374)" fill="url(#gHi)"/>
<ellipse cx="450.4" cy="334" rx="33.4" ry="45.5" transform="rotate(0 450.4 334)" fill="url(#gL2)"/><ellipse cx="450.4" cy="334" rx="33.4" ry="45.5" transform="rotate(0 450.4 334)" fill="url(#gLimb)"/><ellipse cx="450.4" cy="334" rx="33.4" ry="45.5" transform="rotate(0 450.4 334)" fill="url(#gHi2)"/>
<ellipse cx="510" cy="353" rx="31" ry="37" transform="rotate(-10 510 353)" fill="url(#gL)"/><ellipse cx="510" cy="353" rx="31" ry="37" transform="rotate(-10 510 353)" fill="url(#gLimb)"/><ellipse cx="510" cy="353" rx="31" ry="37" transform="rotate(-10 510 353)" fill="url(#gHi)"/>
<line x1="406.5" y1="337.2" x2="453.2" y2="353.1" stroke="#2c5c78" stroke-width="5.4"/><line x1="406.5" y1="337.2" x2="453.2" y2="353.1" stroke="#5c9ec2" stroke-width="2.0"/><line x1="453.2" y1="353.1" x2="500.0" y2="369.0" stroke="#585858" stroke-width="5.4"/><line x1="453.2" y1="353.1" x2="500.0" y2="369.0" stroke="#b4b4b4" stroke-width="2.0"/>
<line x1="532.4" y1="325.3" x2="516.2" y2="347.1" stroke="#2c5c78" stroke-width="5.4"/><line x1="532.4" y1="325.3" x2="516.2" y2="347.1" stroke="#5c9ec2" stroke-width="2.0"/><line x1="516.2" y1="347.1" x2="500.0" y2="369.0" stroke="#585858" stroke-width="5.4"/><line x1="516.2" y1="347.1" x2="500.0" y2="369.0" stroke="#b4b4b4" stroke-width="2.0"/>
<line x1="532.4" y1="325.3" x2="505.2" y2="332.6" stroke="#1c2f3c" stroke-width="5.4"/><line x1="532.4" y1="325.3" x2="505.2" y2="332.6" stroke="#2d4a5c" stroke-width="2.0"/><line x1="505.2" y1="332.6" x2="478.0" y2="340.0" stroke="#1e1e1e" stroke-width="5.4"/><line x1="505.2" y1="332.6" x2="478.0" y2="340.0" stroke="#3a3a3a" stroke-width="2.0"/>
<line x1="406.5" y1="337.2" x2="386.2" y2="345.6" stroke="#1c2f3c" stroke-width="5.4"/><line x1="406.5" y1="337.2" x2="386.2" y2="345.6" stroke="#2d4a5c" stroke-width="2.0"/><line x1="386.2" y1="345.6" x2="366.0" y2="354.0" stroke="#1e1e1e" stroke-width="5.4"/><line x1="386.2" y1="345.6" x2="366.0" y2="354.0" stroke="#3a3a3a" stroke-width="2.0"/>
<line x1="406.5" y1="337.2" x2="391.4" y2="360.0" stroke="#2c5c78" stroke-width="5.4"/><line x1="406.5" y1="337.2" x2="391.4" y2="360.0" stroke="#5c9ec2" stroke-width="2.0"/><line x1="391.4" y1="360.0" x2="376.2" y2="382.9" stroke="#585858" stroke-width="5.4"/><line x1="391.4" y1="360.0" x2="376.2" y2="382.9" stroke="#b4b4b4" stroke-width="2.0"/>
<line x1="500.0" y1="369.0" x2="499.0" y2="418.6" stroke="#585858" stroke-width="5.4"/><line x1="500.0" y1="369.0" x2="499.0" y2="418.6" stroke="#b4b4b4" stroke-width="2.0"/><line x1="499.0" y1="418.6" x2="498.0" y2="468.2" stroke="#2c5c78" stroke-width="5.4"/><line x1="499.0" y1="418.6" x2="498.0" y2="468.2" stroke="#5c9ec2" stroke-width="2.0"/>
<line x1="502.6" y1="299.5" x2="549.2" y2="313.4" stroke="#2c5c78" stroke-width="5.4"/><line x1="502.6" y1="299.5" x2="549.2" y2="313.4" stroke="#5c9ec2" stroke-width="2.0"/><line x1="549.2" y1="313.4" x2="595.9" y2="327.3" stroke="#585858" stroke-width="5.4"/><line x1="549.2" y1="313.4" x2="595.9" y2="327.3" stroke="#b4b4b4" stroke-width="2.0"/>
<line x1="532.4" y1="325.3" x2="578.4" y2="339.7" stroke="#2c5c78" stroke-width="5.4"/><line x1="532.4" y1="325.3" x2="578.4" y2="339.7" stroke="#5c9ec2" stroke-width="2.0"/><line x1="578.4" y1="339.7" x2="624.4" y2="354.1" stroke="#585858" stroke-width="5.4"/><line x1="578.4" y1="339.7" x2="624.4" y2="354.1" stroke="#b4b4b4" stroke-width="2.0"/>
<ellipse cx="380" cy="372" rx="7" ry="7.5" transform="rotate(0 380 372)" fill="url(#gPs)"/>
<circle cx="376.2" cy="382.9" r="9.5" fill="url(#gC)"/>
<ellipse cx="578" cy="321.7" rx="7.5" ry="9.5" transform="rotate(12 578 321.7)" fill="url(#gPs)"/>
<circle cx="595.9" cy="327.3" r="9.5" fill="url(#gC)"/>
<ellipse cx="605.2" cy="347.1" rx="7.5" ry="9.5" transform="rotate(12 605.2 347.1)" fill="url(#gPs)"/>
<circle cx="624.4" cy="354.1" r="9.5" fill="url(#gC)"/>
<circle cx="500.0" cy="369.0" r="9.5" fill="url(#gC)"/>
<circle cx="230.4" cy="301.5" r="13.8" fill="url(#gB)" stroke="#0a0af0" stroke-width="3.4"/>
<circle cx="256.7" cy="326.9" r="13.8" fill="url(#gB)" stroke="#0a0af0" stroke-width="3.4"/>
<circle cx="352.4" cy="286.0" r="13.8" fill="url(#gB)" stroke="#0a0af0" stroke-width="3.4"/>
<circle cx="406.5" cy="337.2" r="13.8" fill="url(#gB)" stroke="#0a0af0" stroke-width="3.4"/>
<circle cx="502.6" cy="299.5" r="13.8" fill="url(#gB)" stroke="#0a0af0" stroke-width="3.4"/>
<circle cx="532.4" cy="325.3" r="13.8" fill="url(#gB)" stroke="#0a0af0" stroke-width="3.4"/>
<circle cx="194.0" cy="344.8" r="9.5" fill="url(#gC)"/>
<line x1="194.0" y1="344.8" x2="193.3" y2="394.1" stroke="#585858" stroke-width="5.4"/><line x1="194.0" y1="344.8" x2="193.3" y2="394.1" stroke="#b4b4b4" stroke-width="2.0"/><line x1="193.3" y1="394.1" x2="192.7" y2="443.4" stroke="#2c5c78" stroke-width="5.4"/><line x1="193.3" y1="394.1" x2="192.7" y2="443.4" stroke="#5c9ec2" stroke-width="2.0"/>
<line x1="192.7" y1="443.4" x2="238.8" y2="459.7" stroke="#2c5c78" stroke-width="5.4"/><line x1="192.7" y1="443.4" x2="238.8" y2="459.7" stroke="#5c9ec2" stroke-width="2.0"/><line x1="238.8" y1="459.7" x2="285.0" y2="476.0" stroke="#585858" stroke-width="5.4"/><line x1="238.8" y1="459.7" x2="285.0" y2="476.0" stroke="#b4b4b4" stroke-width="2.0"/>
<line x1="316.7" y1="429.5" x2="286.4" y2="439.4" stroke="#1c2f3c" stroke-width="5.4"/><line x1="316.7" y1="429.5" x2="286.4" y2="439.4" stroke="#2d4a5c" stroke-width="2.0"/><line x1="286.4" y1="439.4" x2="256.2" y2="449.3" stroke="#1e1e1e" stroke-width="5.4"/><line x1="286.4" y1="439.4" x2="256.2" y2="449.3" stroke="#3a3a3a" stroke-width="2.0"/>
<line x1="316.7" y1="429.5" x2="300.9" y2="452.8" stroke="#2c5c78" stroke-width="5.4"/><line x1="316.7" y1="429.5" x2="300.9" y2="452.8" stroke="#5c9ec2" stroke-width="2.0"/><line x1="300.9" y1="452.8" x2="285.0" y2="476.0" stroke="#585858" stroke-width="5.4"/><line x1="300.9" y1="452.8" x2="285.0" y2="476.0" stroke="#b4b4b4" stroke-width="2.0"/>
<line x1="285.0" y1="476.0" x2="314.7" y2="465.6" stroke="#1e1e1e" stroke-width="5.4"/><line x1="285.0" y1="476.0" x2="314.7" y2="465.6" stroke="#3a3a3a" stroke-width="2.0"/><line x1="314.7" y1="465.6" x2="344.4" y2="455.3" stroke="#1c2f3c" stroke-width="5.4"/><line x1="314.7" y1="465.6" x2="344.4" y2="455.3" stroke="#2d4a5c" stroke-width="2.0"/>
<line x1="344.4" y1="455.3" x2="328.5" y2="479.1" stroke="#2c5c78" stroke-width="5.4"/><line x1="344.4" y1="455.3" x2="328.5" y2="479.1" stroke="#5c9ec2" stroke-width="2.0"/><line x1="328.5" y1="479.1" x2="312.7" y2="502.9" stroke="#585858" stroke-width="5.4"/><line x1="328.5" y1="479.1" x2="312.7" y2="502.9" stroke="#b4b4b4" stroke-width="2.0"/>
<line x1="316.7" y1="429.5" x2="362.5" y2="445.4" stroke="#2c5c78" stroke-width="5.4"/><line x1="316.7" y1="429.5" x2="362.5" y2="445.4" stroke="#5c9ec2" stroke-width="2.0"/><line x1="362.5" y1="445.4" x2="408.3" y2="461.2" stroke="#585858" stroke-width="5.4"/><line x1="362.5" y1="445.4" x2="408.3" y2="461.2" stroke="#b4b4b4" stroke-width="2.0"/>
<line x1="344.4" y1="455.3" x2="390.7" y2="471.4" stroke="#2c5c78" stroke-width="5.4"/><line x1="344.4" y1="455.3" x2="390.7" y2="471.4" stroke="#5c9ec2" stroke-width="2.0"/><line x1="390.7" y1="471.4" x2="437.0" y2="487.5" stroke="#585858" stroke-width="5.4"/><line x1="390.7" y1="471.4" x2="437.0" y2="487.5" stroke="#b4b4b4" stroke-width="2.0"/>
<line x1="408.3" y1="461.2" x2="424.7" y2="437.9" stroke="#585858" stroke-width="5.4"/><line x1="408.3" y1="461.2" x2="424.7" y2="437.9" stroke="#b4b4b4" stroke-width="2.0"/><line x1="424.7" y1="437.9" x2="441.1" y2="414.6" stroke="#2c5c78" stroke-width="5.4"/><line x1="424.7" y1="437.9" x2="441.1" y2="414.6" stroke="#5c9ec2" stroke-width="2.0"/>
<line x1="408.3" y1="461.2" x2="438.5" y2="451.0" stroke="#1e1e1e" stroke-width="5.4"/><line x1="408.3" y1="461.2" x2="438.5" y2="451.0" stroke="#3a3a3a" stroke-width="2.0"/><line x1="438.5" y1="451.0" x2="468.7" y2="440.8" stroke="#1c2f3c" stroke-width="5.4"/><line x1="438.5" y1="451.0" x2="468.7" y2="440.8" stroke="#2d4a5c" stroke-width="2.0"/>
<line x1="468.7" y1="440.8" x2="452.9" y2="464.1" stroke="#2c5c78" stroke-width="5.4"/><line x1="468.7" y1="440.8" x2="452.9" y2="464.1" stroke="#5c9ec2" stroke-width="2.0"/><line x1="452.9" y1="464.1" x2="437.0" y2="487.5" stroke="#585858" stroke-width="5.4"/><line x1="452.9" y1="464.1" x2="437.0" y2="487.5" stroke="#b4b4b4" stroke-width="2.0"/>
<line x1="437.0" y1="487.5" x2="467.5" y2="477.9" stroke="#1e1e1e" stroke-width="5.4"/><line x1="437.0" y1="487.5" x2="467.5" y2="477.9" stroke="#3a3a3a" stroke-width="2.0"/><line x1="467.5" y1="477.9" x2="498.0" y2="468.2" stroke="#1c2f3c" stroke-width="5.4"/><line x1="467.5" y1="477.9" x2="498.0" y2="468.2" stroke="#2d4a5c" stroke-width="2.0"/>
<line x1="468.7" y1="440.8" x2="515.1" y2="457.0" stroke="#2c5c78" stroke-width="5.4"/><line x1="468.7" y1="440.8" x2="515.1" y2="457.0" stroke="#5c9ec2" stroke-width="2.0"/><line x1="515.1" y1="457.0" x2="561.5" y2="473.1" stroke="#585858" stroke-width="5.4"/><line x1="515.1" y1="457.0" x2="561.5" y2="473.1" stroke="#b4b4b4" stroke-width="2.0"/>
<ellipse cx="267" cy="440.4" rx="5" ry="6" transform="rotate(20 267 440.4)" fill="url(#gPs)"/>
<ellipse cx="318.7" cy="488" rx="5.5" ry="5" transform="rotate(0 318.7 488)" fill="url(#gPs)"/>
<ellipse cx="544.7" cy="461.8" rx="5" ry="5.5" transform="rotate(20 544.7 461.8)" fill="url(#gPs)"/>
<circle cx="192.7" cy="443.4" r="13.2" fill="url(#gS)"/>
<circle cx="441.1" cy="414.6" r="13.2" fill="url(#gS)"/>
<circle cx="256.2" cy="449.3" r="9.5" fill="url(#gC)"/>
<circle cx="312.7" cy="502.9" r="9.5" fill="url(#gC)"/>
<circle cx="561.5" cy="473.1" r="9.5" fill="url(#gC)"/>
<circle cx="285.0" cy="476.0" r="9.5" fill="url(#gC)"/>
<circle cx="408.3" cy="461.2" r="9.5" fill="url(#gC)"/>
<circle cx="437.0" cy="487.5" r="9.5" fill="url(#gC)"/>
<circle cx="498.0" cy="468.2" r="13.2" fill="url(#gS)"/>
<circle cx="316.7" cy="429.5" r="13.8" fill="url(#gG)" stroke="#0b7d0b" stroke-width="3.4"/>
<circle cx="344.4" cy="455.3" r="13.8" fill="url(#gG)" stroke="#0b7d0b" stroke-width="3.4"/>
<circle cx="468.7" cy="440.8" r="13.8" fill="url(#gG)" stroke="#0b7d0b" stroke-width="3.4"/></g>
<text transform="translate(-0.2,31.2) scale(0.9,1.02)" font-size="42" font-weight="bold">a</text>
<circle cx="42" cy="135.4" r="14.3" fill="url(#gG)" stroke="#0b7d0b" stroke-width="3.2"/>
<circle cx="42.4" cy="196" r="14.3" fill="url(#gB)" stroke="#0a0af0" stroke-width="3.2"/>
<text x="69" y="144.2" font-size="25">Si<tspan font-size="15" dy="8">IIa</tspan></text>
<text x="69" y="205" font-size="25">Si<tspan font-size="15" dy="8">IIb</tspan></text>
</svg>
</body></html>
